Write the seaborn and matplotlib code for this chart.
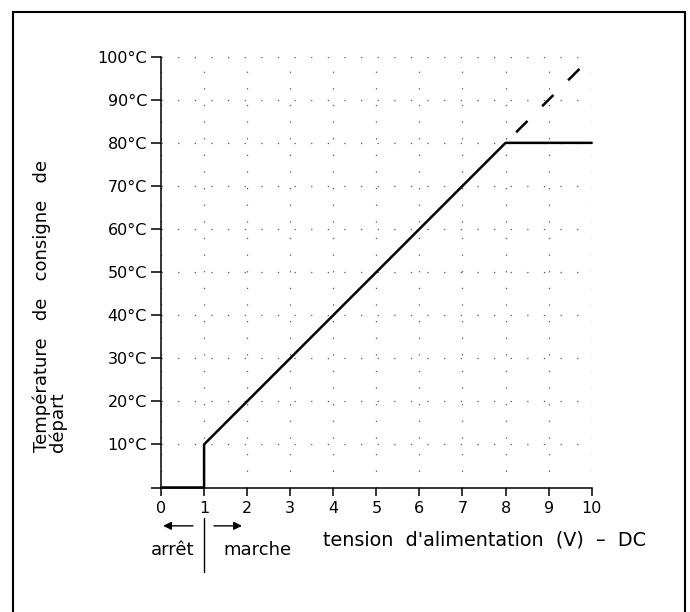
import matplotlib
matplotlib.use("Agg")
import matplotlib.pyplot as plt
from matplotlib.patches import Rectangle
import seaborn as sns
import pandas as pd

# ---- data ----
volts = [0, 1, 1, 8, 10]
temps = [0, 0, 10, 80, 80]
dash_volts = [8, 9.8]
dash_temps = [80, 98]
x_ticks = [0, 1, 2, 3, 4, 5, 6, 7, 8, 9, 10]
x_labels = ["0", "1", "2", "3", "4", "5", "6", "7", "8", "9", "10"]
y_ticks = [0, 10, 20, 30, 40, 50, 60, 70, 80, 90, 100]
y_labels = ["", "10°C", "20°C", "30°C", "40°C", "50°C", "60°C", "70°C", "80°C", "90°C", "100°C"]

sns.set_theme(style="white")
plt.rcParams["font.family"] = ["DejaVu Sans"]
plt.rcParams["text.color"] = "black"
plt.rcParams["axes.labelcolor"] = "black"
plt.rcParams["xtick.color"] = "black"
plt.rcParams["ytick.color"] = "black"

fig = plt.figure(figsize=(6.9, 6.12), dpi=100)
ax = fig.add_axes([161 / 690, 1 - 487.5 / 612, (591.7 - 161) / 690, (487.5 - 56.7) / 612])

df = pd.DataFrame({"V": volts, "T": temps})
dfd = pd.DataFrame({"V": dash_volts, "T": dash_temps})

sns.lineplot(data=df, x="V", y="T", sort=False, estimator=None, color="black",
             linewidth=1.8, ax=ax, clip_on=False, zorder=5)
sns.lineplot(data=dfd, x="V", y="T", sort=False, estimator=None, color="black",
             linewidth=1.8, linestyle=(8.7, (6.4, 8.3)), ax=ax, clip_on=False, zorder=5)

ax.set_xlim(0, 10)
ax.set_ylim(0, 100)
ax.set_xticks(x_ticks)
ax.set_xticklabels(x_labels, fontsize=11.5)
ax.set_yticks(y_ticks)
ax.set_yticklabels(y_labels, fontsize=11.5)
ax.set_xlabel("")
ax.set_ylabel("")

for s in ["top", "right"]:
    ax.spines[s].set_visible(False)
for s in ["left", "bottom"]:
    ax.spines[s].set_color("black")
    ax.spines[s].set_linewidth(1.1)

ax.tick_params(axis="y", direction="out", length=7, width=1.1, pad=3, left=True)
ax.tick_params(axis="x", direction="out", length=6, width=1.1, pad=4, bottom=True)

ax.set_axisbelow(True)
ax.grid(True, linestyle=(0, (1, 12.3)), linewidth=0.9, color="#555555")

xt = ax.get_xaxis_transform()
# arrows
ax.annotate("", xy=(0.05, -0.089), xytext=(0.74, -0.089), xycoords=xt, textcoords=xt,
            arrowprops=dict(arrowstyle="-|>", color="black", lw=1.0, mutation_scale=12,
                            shrinkA=0, shrinkB=0), annotation_clip=False)
ax.annotate("", xy=(1.88, -0.089), xytext=(1.23, -0.089), xycoords=xt, textcoords=xt,
            arrowprops=dict(arrowstyle="-|>", color="black", lw=1.0, mutation_scale=12,
                            shrinkA=0, shrinkB=0), annotation_clip=False)
ax.plot([1, 1], [-0.071, -0.196], transform=xt, color="black", lw=1.0, clip_on=False)

ax.text(0.27, -0.145, "arrêt", transform=xt, ha="center", va="center", fontsize=13)
ax.text(2.23, -0.145, "marche", transform=xt, ha="center", va="center", fontsize=13)
ax.text(7.52, -0.122, "tension  d'alimentation  (V)  –  DC", transform=xt,
        ha="center", va="center", fontsize=13.8)

fig.text(50 / 690, 1 - 452 / 612, "Température   de   consigne   de\ndépart",
         rotation=90, ha="center", va="bottom", multialignment="left",
         fontsize=13, linespacing=0.8)

fig.add_artist(Rectangle((13 / 690, -0.02), (685 - 13) / 690, 1 - 12 / 612 + 0.02,
                         transform=fig.transFigure, fill=False, edgecolor="black",
                         linewidth=1.5))

fig.savefig("out.png", dpi=100)
